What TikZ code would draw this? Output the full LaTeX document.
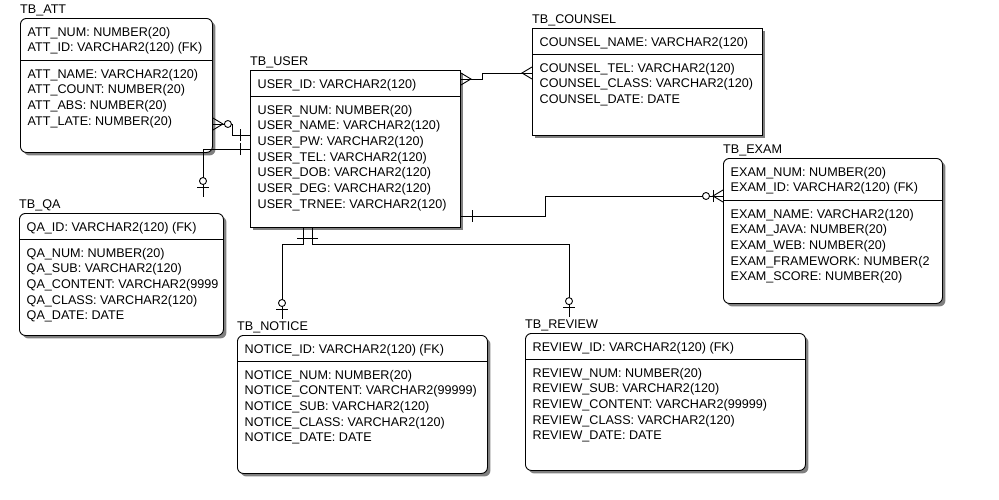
\documentclass[tikz,border=0pt]{standalone}
\usepackage{fontspec}
\setmainfont{Liberation Sans}
\usetikzlibrary{shadows}
\tikzstyle{entity}=[draw,fill=white,line width=0.9pt,rounded corners=6pt,anchor=north west,inner sep=0pt,drop shadow={shadow xshift=3pt,shadow yshift=-3pt,fill=black!50,opacity=1}]
\tikzstyle{entitysq}=[entity,sharp corners]
\tikzstyle{title}=[anchor=base west,inner xsep=0pt,inner ysep=3pt]
\tikzstyle{field}=[anchor=north west,inner sep=0pt,align=left]
\tikzstyle{rel}=[line width=0.9pt]
\tikzset{
  pics/many/.style={code={\draw[rel] (0,-6) -- (10,0) -- (0,6);}},
  pics/onebar/.style={code={\draw[rel] (#1,-6) -- (#1,6);}},
  pics/zero/.style={code={\draw[rel,fill=white] (#1,0) circle (3.5pt);}}
}

\begin{document}
\begin{tikzpicture}[x=1pt,y=-1pt,font=\fontsize{12.6}{15.7}\selectfont]
  \path[use as bounding box,fill=white] (0,0) rectangle (999,499);

  % TB_ATT
  \node[entity,minimum width=192pt,minimum height=134pt] (att) at (20,18) {};
  \node[title] (attT) at ([yshift=4.5pt]att.north west) {TB\_ATT};
  \node[field] (attK) at ([shift={(7.5pt,-8.8pt)}]att.north west) {ATT\_NUM: NUMBER(20)\\ATT\_ID: VARCHAR2(120) (FK)};
  \draw[rel] ([yshift=-42pt]att.north west) -- ([yshift=-42pt]att.north east);
  \node[field] (attA) at ([shift={(7.5pt,-50.8pt)}]att.north west) {ATT\_NAME: VARCHAR2(120)\\ATT\_COUNT: NUMBER(20)\\ATT\_ABS: NUMBER(20)\\ATT\_LATE: NUMBER(20)};

  % TB_USER
  \node[entitysq,minimum width=210pt,minimum height=157pt] (user) at (250,70) {};
  \node[title] (userT) at ([yshift=4.5pt]user.north west) {TB\_USER};
  \node[field] (userK) at ([shift={(7.5pt,-8.8pt)}]user.north west) {USER\_ID: VARCHAR2(120)};
  \draw[rel] ([yshift=-26pt]user.north west) -- ([yshift=-26pt]user.north east);
  \node[field] (userA) at ([shift={(7.5pt,-34.8pt)}]user.north west) {USER\_NUM: NUMBER(20)\\USER\_NAME: VARCHAR2(120)\\USER\_PW: VARCHAR2(120)\\USER\_TEL: VARCHAR2(120)\\USER\_DOB: VARCHAR2(120)\\USER\_DEG: VARCHAR2(120)\\USER\_TRNEE: VARCHAR2(120)};

  % TB_COUNSEL
  \node[entitysq,minimum width=230pt,minimum height=107pt] (counsel) at (532,28) {};
  \node[title] (counselT) at ([yshift=4.5pt]counsel.north west) {TB\_COUNSEL};
  \node[field] (counselK) at ([shift={(7.5pt,-8.8pt)}]counsel.north west) {COUNSEL\_NAME: VARCHAR2(120)};
  \draw[rel] ([yshift=-26pt]counsel.north west) -- ([yshift=-26pt]counsel.north east);
  \node[field] (counselA) at ([shift={(7.5pt,-34.8pt)}]counsel.north west) {COUNSEL\_TEL: VARCHAR2(120)\\COUNSEL\_CLASS: VARCHAR2(120)\\COUNSEL\_DATE: DATE};

  % TB_EXAM
  \node[entity,minimum width=219pt,minimum height=145pt] (exam) at (723,158) {};
  \node[title] (examT) at ([yshift=4.5pt]exam.north west) {TB\_EXAM};
  \node[field] (examK) at ([shift={(7.5pt,-8.8pt)}]exam.north west) {EXAM\_NUM: NUMBER(20)\\EXAM\_ID: VARCHAR2(120) (FK)};
  \draw[rel] ([yshift=-42pt]exam.north west) -- ([yshift=-42pt]exam.north east);
  \begin{scope}
    \clip (exam.north west) rectangle ([xshift=-1.5pt]exam.south east);
    \node[field] (examA) at ([shift={(7.5pt,-50.8pt)}]exam.north west) {EXAM\_NAME: VARCHAR2(120)\\EXAM\_JAVA: NUMBER(20)\\EXAM\_WEB: NUMBER(20)\\EXAM\_FRAMEWORK: NUMBER(2\\EXAM\_SCORE: NUMBER(20)};
  \end{scope}

  % TB_QA
  \node[entity,minimum width=204pt,minimum height=122pt] (qa) at (19,213) {};
  \node[title] (qaT) at ([yshift=4.5pt]qa.north west) {TB\_QA};
  \node[field] (qaK) at ([shift={(7.5pt,-8.8pt)}]qa.north west) {QA\_ID: VARCHAR2(120) (FK)};
  \draw[rel] ([yshift=-26pt]qa.north west) -- ([yshift=-26pt]qa.north east);
  \begin{scope}
    \clip (qa.north west) rectangle ([xshift=-1.5pt]qa.south east);
    \node[field] (qaA) at ([shift={(7.5pt,-34.8pt)}]qa.north west) {QA\_NUM: NUMBER(20)\\QA\_SUB: VARCHAR2(120)\\QA\_CONTENT: VARCHAR2(9999\\QA\_CLASS: VARCHAR2(120)\\QA\_DATE: DATE};
  \end{scope}

  % TB_NOTICE
  \node[entity,minimum width=250pt,minimum height=138pt] (notice) at (237,335) {};
  \node[title] (noticeT) at ([yshift=4.5pt]notice.north west) {TB\_NOTICE};
  \node[field] (noticeK) at ([shift={(7.5pt,-8.8pt)}]notice.north west) {NOTICE\_ID: VARCHAR2(120) (FK)};
  \draw[rel] ([yshift=-26pt]notice.north west) -- ([yshift=-26pt]notice.north east);
  \node[field] (noticeA) at ([shift={(7.5pt,-34.8pt)}]notice.north west) {NOTICE\_NUM: NUMBER(20)\\NOTICE\_CONTENT: VARCHAR2(99999)\\NOTICE\_SUB: VARCHAR2(120)\\NOTICE\_CLASS: VARCHAR2(120)\\NOTICE\_DATE: DATE};

  % TB_REVIEW
  \node[entity,minimum width=280pt,minimum height=137pt] (review) at (525,333) {};
  \node[title] (reviewT) at ([yshift=4.5pt]review.north west) {TB\_REVIEW};
  \node[field] (reviewK) at ([shift={(7.5pt,-8.8pt)}]review.north west) {REVIEW\_ID: VARCHAR2(120) (FK)};
  \draw[rel] ([yshift=-26pt]review.north west) -- ([yshift=-26pt]review.north east);
  \node[field] (reviewA) at ([shift={(7.5pt,-34.8pt)}]review.north west) {REVIEW\_NUM: NUMBER(20)\\REVIEW\_SUB: VARCHAR2(120)\\REVIEW\_CONTENT: VARCHAR2(99999)\\REVIEW\_CLASS: VARCHAR2(120)\\REVIEW\_DATE: DATE};

  % relationships
  \draw[rel] (att.east |- 0,124) -- ++(20,0) |- (user.west |- 0,135);
  \pic at (att.east |- 0,124) {many};
  \pic at (att.east |- 0,124) {zero=15};
  \pic[rotate=180] at (user.west |- 0,135) {onebar=10};

  \draw[rel] (user.west |- 0,149) -| (qaT.north -| 203,0);
  \pic[rotate=180] at (user.west |- 0,149) {onebar=10};
  \pic[rotate=90] at (qaT.north -| 203,0) {onebar=9};
  \pic[rotate=90] at (qaT.north -| 203,0) {zero=15.5};

  \draw[rel] (user.east |- 0,79) -- ++(22,0) |- (counsel.west |- 0,73);
  \pic at (user.east |- 0,79) {many};
  \pic[rotate=180] at (counsel.west |- 0,73) {many};

  \draw[rel] (user.east |- 0,216) -- ++(85,0) |- (exam.west |- 0,196);
  \pic at (user.east |- 0,216) {onebar=12};
  \pic[rotate=180] at (exam.west |- 0,196) {many};
  \pic[rotate=180] at (exam.west |- 0,196) {onebar=10};
  \pic[rotate=180] at (exam.west |- 0,196) {zero=17};

  \draw[rel] (user.south -| 303,0) -- ++(0,17) -| (noticeT.north -| 282,0);
  \pic[rotate=-90] at (user.south -| 303,0) {onebar=11};
  \pic[rotate=90] at (noticeT.north -| 282,0) {onebar=9.5};
  \pic[rotate=90] at (noticeT.north -| 282,0) {zero=15.5};

  \draw[rel] (user.south -| 312,0) -- ++(0,17) -| (reviewT.north -| 569,0);
  \pic[rotate=-90] at (user.south -| 312,0) {onebar=11};
  \pic[rotate=90] at (reviewT.north -| 569,0) {onebar=9.5};
  \pic[rotate=90] at (reviewT.north -| 569,0) {zero=15.5};
\end{tikzpicture}
\end{document}
